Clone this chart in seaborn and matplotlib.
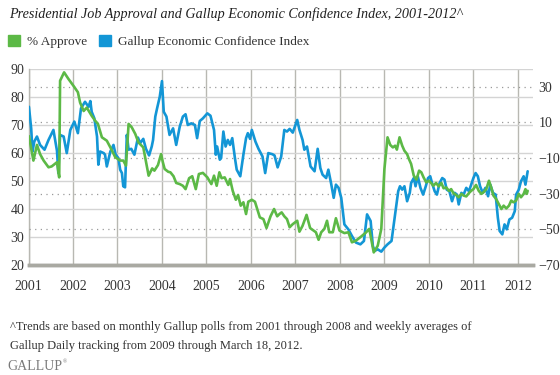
# Presidential Job Approval vs Gallup Economic Confidence Index, 2001-2012
import pandas as pd
import matplotlib
matplotlib.use("Agg")
import matplotlib.pyplot as plt
from matplotlib.patches import Patch
import seaborn as sns

# % Approve (left axis)
approve_year = [
    2001.01, 2001.11, 2001.19, 2001.26, 2001.34, 2001.45, 2001.52, 2001.64, 2001.69, 2001.71,
    2001.80, 2001.90, 2002.01, 2002.11, 2002.16, 2002.24, 2002.31, 2002.42, 2002.50, 2002.56,
    2002.65, 2002.76, 2002.86, 2002.95, 2003.06, 2003.13, 2003.19, 2003.25, 2003.32, 2003.40,
    2003.47, 2003.58, 2003.70, 2003.78, 2003.83, 2003.91, 2003.98, 2004.02, 2004.06, 2004.14,
    2004.19, 2004.26, 2004.32, 2004.40, 2004.47, 2004.53, 2004.61, 2004.68, 2004.76, 2004.83,
    2004.92, 2005.02, 2005.11, 2005.17, 2005.23, 2005.29, 2005.34, 2005.41, 2005.49, 2005.53,
    2005.59, 2005.66, 2005.71, 2005.77, 2005.83, 2005.89, 2005.94, 2006.02, 2006.09, 2006.14,
    2006.20, 2006.28, 2006.35, 2006.44, 2006.52, 2006.59, 2006.64, 2006.69, 2006.75, 2006.81,
    2006.87, 2006.94, 2007.04, 2007.09, 2007.16, 2007.25, 2007.33, 2007.41, 2007.46, 2007.52,
    2007.58, 2007.65, 2007.71, 2007.76, 2007.84, 2007.91, 2007.99, 2008.10, 2008.19, 2008.27,
    2008.36, 2008.48, 2008.59, 2008.66, 2008.76, 2008.85, 2008.93, 2009.00, 2009.07, 2009.13,
    2009.19, 2009.24, 2009.28, 2009.34, 2009.40, 2009.45, 2009.51, 2009.55, 2009.60, 2009.66,
    2009.72, 2009.78, 2009.83, 2009.88, 2009.94, 2010.00, 2010.05, 2010.10, 2010.16, 2010.22,
    2010.28, 2010.33, 2010.39, 2010.45, 2010.50, 2010.55, 2010.61, 2010.67, 2010.73, 2010.78,
    2010.84, 2010.90, 2010.95, 2011.00, 2011.06, 2011.12, 2011.18, 2011.23, 2011.29, 2011.35,
    2011.40, 2011.45, 2011.51, 2011.57, 2011.63, 2011.68, 2011.74, 2011.80, 2011.85, 2011.90,
    2011.96, 2012.02, 2012.07, 2012.13, 2012.17, 2012.20, 2012.22,
]
approve_pct = [
    66.0, 57.3, 62.9, 59.6, 57.3, 54.9, 55.2, 56.7, 51.3, 85.8,
    88.8, 86.4, 84.0, 81.7, 78.0, 75.0, 76.2, 73.3, 71.5, 70.4,
    65.6, 64.4, 61.4, 58.5, 57.3, 57.3, 55.5, 70.4, 69.2, 66.8,
    63.8, 62.0, 51.9, 54.5, 53.7, 55.7, 59.6, 56.7, 54.3, 53.3,
    53.1, 51.7, 49.3, 48.9, 48.3, 47.1, 51.0, 51.7, 47.1, 52.5,
    52.9, 51.3, 48.9, 51.9, 48.3, 53.1, 51.0, 51.3, 48.6, 50.7,
    46.5, 43.3, 45.0, 41.2, 42.4, 38.2, 42.6, 43.3, 42.6, 40.0,
    37.0, 36.4, 33.2, 37.4, 40.0, 37.4, 38.2, 38.8, 37.4, 36.4,
    33.5, 34.6, 35.8, 31.9, 34.0, 37.9, 33.2, 32.3, 31.7, 29.0,
    31.7, 32.9, 35.8, 31.7, 31.7, 36.7, 32.3, 31.4, 31.7, 28.1,
    28.7, 30.2, 31.7, 32.9, 24.5, 26.9, 32.9, 54.3, 65.6, 62.9,
    62.0, 62.6, 61.2, 65.6, 62.6, 60.8, 59.6, 57.9, 56.1, 51.9,
    50.5, 53.7, 53.1, 51.3, 49.5, 50.1, 49.3, 48.3, 49.3, 48.1,
    49.3, 47.4, 47.7, 46.5, 47.1, 45.7, 45.0, 44.2, 45.4, 44.8,
    44.5, 45.7, 46.5, 47.1, 48.6, 46.5, 45.4, 46.0, 47.1, 50.1,
    47.7, 44.8, 43.6, 41.8, 40.0, 41.2, 40.2, 41.2, 43.0, 42.4,
    43.0, 45.4, 44.2, 45.4, 47.1, 45.4, 46.5,
]

# Gallup Economic Confidence Index (right axis)
eci_year = [
    2001.01, 2001.06, 2001.09, 2001.13, 2001.19, 2001.26, 2001.36, 2001.45, 2001.56, 2001.64,
    2001.67, 2001.71, 2001.79, 2001.86, 2001.94, 2002.03, 2002.11, 2002.18, 2002.27, 2002.35,
    2002.39, 2002.42, 2002.48, 2002.54, 2002.57, 2002.61, 2002.69, 2002.72, 2002.76, 2002.84,
    2002.91, 2002.96, 2003.02, 2003.06, 2003.10, 2003.13, 2003.17, 2003.21, 2003.25, 2003.31,
    2003.38, 2003.46, 2003.51, 2003.58, 2003.64, 2003.71, 2003.77, 2003.80, 2003.85, 2003.89,
    2003.95, 2004.00, 2004.04, 2004.10, 2004.17, 2004.25, 2004.32, 2004.40, 2004.47, 2004.53,
    2004.58, 2004.66, 2004.74, 2004.79, 2004.85, 2004.92, 2005.02, 2005.09, 2005.17, 2005.21,
    2005.24, 2005.30, 2005.33, 2005.38, 2005.43, 2005.48, 2005.53, 2005.58, 2005.64, 2005.68,
    2005.76, 2005.83, 2005.89, 2005.93, 2005.98, 2006.02, 2006.10, 2006.17, 2006.26, 2006.32,
    2006.39, 2006.48, 2006.53, 2006.60, 2006.68, 2006.75, 2006.81, 2006.87, 2006.94, 2007.04,
    2007.09, 2007.16, 2007.20, 2007.26, 2007.34, 2007.43, 2007.50, 2007.56, 2007.61, 2007.69,
    2007.74, 2007.80, 2007.86, 2007.91, 2007.97, 2008.03, 2008.10, 2008.19, 2008.27, 2008.36,
    2008.46, 2008.54, 2008.61, 2008.69, 2008.74, 2008.78, 2008.85, 2008.93, 2009.00, 2009.07,
    2009.16, 2009.21, 2009.26, 2009.31, 2009.35, 2009.40, 2009.45, 2009.51, 2009.57, 2009.60,
    2009.66, 2009.70, 2009.75, 2009.81, 2009.87, 2009.93, 2009.98, 2010.03, 2010.07, 2010.13,
    2010.18, 2010.24, 2010.30, 2010.35, 2010.40, 2010.46, 2010.52, 2010.58, 2010.63, 2010.67,
    2010.73, 2010.78, 2010.84, 2010.90, 2010.95, 2011.00, 2011.05, 2011.10, 2011.15, 2011.21,
    2011.27, 2011.33, 2011.38, 2011.44, 2011.50, 2011.55, 2011.59, 2011.65, 2011.70, 2011.75,
    2011.81, 2011.87, 2011.93, 2011.96, 2012.02, 2012.07, 2012.13, 2012.17, 2012.22,
]
eci_value = [
    18.8, 6.7, -6.3, -0.7, 2.1, -2.6, -5.3, 0.2, 5.8, -5.9,
    -18.4, 3.0, 2.1, -7.2, 5.8, 10.5, 4.0, 17.9, 21.6, 18.8,
    22.0, 16.0, 12.3, 2.1, -13.7, -6.3, -7.2, -8.1, -14.7, -6.3,
    -2.6, -8.1, -10.0, -16.5, -18.4, -25.8, -26.4, 3.0, -5.3, -4.8,
    -8.1, 1.5, -1.6, 0.8, -4.8, -8.5, -3.5, 0.2, 13.3, 17.9,
    24.4, 33.2, 16.0, 13.3, 3.0, 6.7, -2.6, 7.7, 13.3, 14.6,
    8.6, 9.5, 8.6, 1.2, 10.8, 12.3, 15.1, 13.8, 5.8, -8.1,
    -3.5, -10.9, -10.0, 4.9, -3.5, 0.2, -2.6, 1.2, -10.0, -16.5,
    -20.2, -8.1, 1.2, 4.0, 0.8, 5.8, -0.7, -4.8, -9.1, -18.4,
    -7.2, -7.8, -8.5, -15.2, -9.1, 5.8, 4.9, 6.4, 4.3, 11.4,
    5.8, 0.2, -5.3, -3.5, -14.7, -17.4, -4.8, -15.6, -19.3, -21.2,
    -16.5, -24.0, -32.3, -24.9, -26.7, -32.3, -47.2, -50.0, -53.7, -57.4,
    -58.4, -56.5, -41.6, -45.3, -59.3, -62.1, -61.2, -62.5, -60.2, -58.4,
    -56.5, -47.2, -37.9, -28.6, -25.8, -27.7, -25.8, -34.2, -29.5, -24.0,
    -21.2, -25.8, -20.2, -26.7, -30.5, -25.8, -21.2, -20.2, -24.0, -28.6,
    -30.5, -24.0, -21.2, -22.1, -27.7, -28.6, -34.2, -29.5, -30.5, -36.0,
    -29.5, -30.5, -26.7, -28.6, -24.9, -21.2, -18.4, -20.2, -25.8, -29.5,
    -26.7, -31.4, -24.9, -29.5, -30.5, -43.5, -50.9, -52.8, -47.2, -50.0,
    -44.4, -43.5, -39.8, -30.5, -27.7, -23.0, -20.2, -24.9, -17.4,
]

year_ticks = list(range(2001, 2013))
left_ticks = [20, 30, 40, 50, 60, 70, 80, 90]
right_ticks = [-70, -50, -30, -10, 10, 30]

GREEN = "#5cb946"
BLUE = "#1396d6"
TXT = "#333333"

approve = pd.DataFrame({"year": approve_year, "pct": approve_pct})
eci = pd.DataFrame({"year": eci_year, "value": eci_value})

sns.set_style("white")
plt.rcParams["font.family"] = ["Liberation Serif", "DejaVu Serif"]

fig = plt.figure(figsize=(5.6, 3.75), dpi=100)
ax = fig.add_axes([0.0509, 0.2933, 0.9009, 0.5227])

# left axis: solid grid, year grid, tick labels
ax.set_xlim(2001, 2012.34)
ax.set_ylim(20, 90)
ax.set_xticks(year_ticks)
ax.set_yticks(left_ticks)
ax.grid(axis="y", color="#d4d4d4", lw=1)
ax.grid(axis="x", color="#b8b8b2", lw=1)
for s in ["top", "right"]:
    ax.spines[s].set_visible(False)
ax.spines["left"].set_color("#b8b8b2")
ax.spines["left"].set_linewidth(1)
ax.spines["bottom"].set_color("#a9a9a2")
ax.spines["bottom"].set_linewidth(2.5)
ax.tick_params(axis="both", length=0, labelsize=10, colors=TXT)
ax.tick_params(axis="y", pad=3)
ax.tick_params(axis="x", pad=11)

# right axis: dotted grid + confidence index
ax2 = ax.twinx()
ax2.set_ylim(-70, 40)
ax2.set_yticks(right_ticks)
ax2.grid(axis="y", color="#9a9a9a", lw=0.9, linestyle=(0, (1, 3.5)))
ax2.set_axisbelow(True)
for s in ["top", "right", "left"]:
    ax2.spines[s].set_visible(False)
ax2.spines["bottom"].set_color("#a9a9a2")
ax2.spines["bottom"].set_linewidth(2.5)
ax2.tick_params(axis="y", length=0, labelsize=10, colors=TXT, pad=4)
sns.lineplot(data=eci, x="year", y="value", ax=ax2, color=BLUE, lw=1.9)
ax2.set_ylabel("")
ax2.set_xlabel("")

# approval on top, same scale as left axis
ax3 = ax.twinx()
sns.lineplot(data=approve, x="year", y="pct", ax=ax3, color=GREEN, lw=1.9)
ax3.set_ylim(20, 90)
ax3.axis("off")

ax.set_xlim(2001, 2012.34)
ax.set_xlabel("")
ax.set_ylabel("")

fig.text(9 / 560, 1 - 14 / 375,
         "Presidential Job Approval and Gallup Economic Confidence Index, 2001-2012^",
         style="italic", fontsize=10.2, color="#222222", va="center", ha="left")

handles = [Patch(color=GREEN, label="% Approve"),
           Patch(color=BLUE, label="Gallup Economic Confidence Index")]
fig.legend(handles=handles, loc="upper left", bbox_to_anchor=(8 / 560, 1 - 35 / 375),
           ncol=2, frameon=False, fontsize=9.5, handlelength=0.9, handleheight=0.9,
           handletextpad=0.55, columnspacing=0.9, borderpad=0, borderaxespad=0,
           labelcolor=TXT)

fig.text(10 / 560, 1 - 327 / 375,
         "^Trends are based on monthly Gallup polls from 2001 through 2008 and weekly averages of",
         fontsize=9, color=TXT, va="center", ha="left")
fig.text(10 / 560, 1 - 346 / 375,
         "Gallup Daily tracking from 2009 through March 18, 2012.",
         fontsize=9, color=TXT, va="center", ha="left")
fig.text(7 / 560, 1 - 367 / 375, "GALLUP", fontsize=10, color="#7a7a7a",
         va="center", ha="left")
fig.text(63 / 560, 1 - 362 / 375, "®", fontsize=4, color="#7a7a7a",
         va="center", ha="left")

fig.savefig("out.png", dpi=100)
